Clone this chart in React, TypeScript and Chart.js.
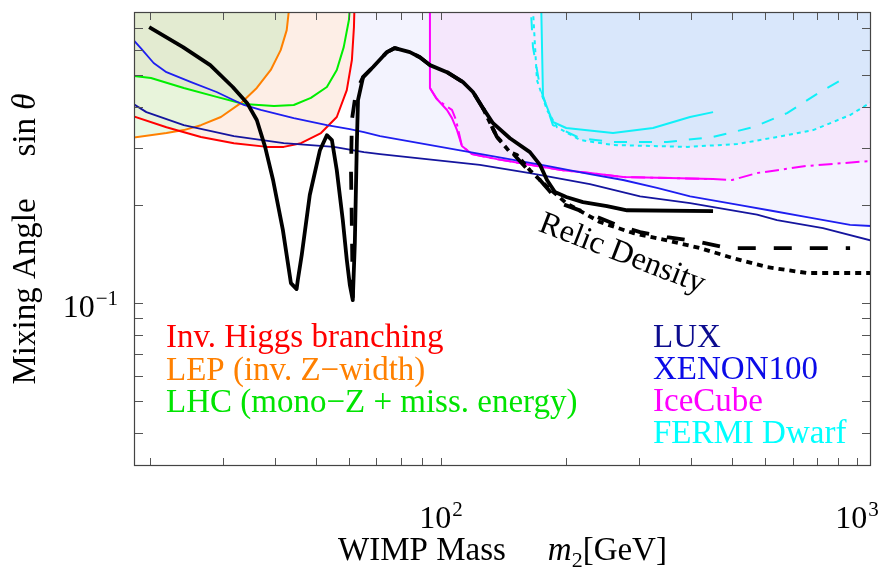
import React, { useEffect, useRef } from "react";
import { Chart, registerables } from "chart.js";

Chart.register(...registerables);

// ---------------- data (mass in GeV, sin theta) ----------------
const higgsMass = [18.0, 21.9, 26.5, 31.8, 38.2, 41.9, 46.1, 51.5, 56.2, 59.4, 61.1, 61.8, 62.1];
const higgsSin = [0.377, 0.347, 0.324, 0.31, 0.302, 0.302, 0.31, 0.333, 0.373, 0.451, 0.558, 0.704, 0.9];

const lepMass = [18.0, 21.9, 24.1, 26.5, 29.6, 33.1, 36.1, 39.0, 41.2, 42.6, 43.6];
const lepSin = [0.322, 0.333, 0.34, 0.352, 0.373, 0.412, 0.458, 0.52, 0.598, 0.689, 0.9];

const lhcMass = [18.0, 20.1, 24.1, 28.9, 33.6, 39.7, 44.3, 48.7, 53.2, 56.2, 58.4, 60.1, 60.8];
const lhcSin = [0.5, 0.491, 0.458, 0.43, 0.409, 0.403, 0.406, 0.427, 0.461, 0.52, 0.611, 0.74, 0.9];

const luxMass = [18.0, 19.6, 24.1, 31.8, 41.9, 55.3, 65.3, 71.4, 124, 163.6, 228, 301, 397, 575, 642, 828, 1100];
const luxSin = [0.413, 0.386, 0.352, 0.326, 0.31, 0.302, 0.291, 0.287, 0.266, 0.251, 0.232, 0.213, 0.203, 0.187, 0.18, 0.17, 0.155];

const xenonMass = [18.0, 19.0, 20.4, 21.9, 25.1, 28.9, 33.6, 36.9, 44.3, 53.2, 60.4, 65.3, 71.4, 117.4, 179.8, 228, 274, 330.5, 397, 523, 628, 758, 962, 1100];
const xenonSin = [0.655, 0.607, 0.546, 0.512, 0.477, 0.445, 0.406, 0.392, 0.37, 0.352, 0.3425, 0.335, 0.326, 0.291, 0.264, 0.249, 0.239, 0.226, 0.213, 0.2, 0.192, 0.184, 0.174, 0.1725];

const iceSolidMass = [94.1, 94.1, 97.3, 103.4, 106.3, 109.3, 112.3, 118.7, 136.3, 163.6, 196.5, 228, 274, 375, 450.7];
const iceSolidSin = [0.9, 0.4575, 0.4265, 0.392, 0.37, 0.34, 0.304, 0.287, 0.277, 0.266, 0.256, 0.251, 0.244, 0.242, 0.2405];

const iceDashMass = [94.1, 97.8, 102.8, 106.3, 108.7, 112.3, 118.7, 136.3, 163.6, 196.5, 228, 274, 375, 450.7, 500.7, 575, 758, 1100];
const iceDashSin = [0.4575, 0.4234, 0.403, 0.392, 0.365, 0.304, 0.287, 0.277, 0.266, 0.256, 0.251, 0.244, 0.242, 0.2405, 0.239, 0.251, 0.264, 0.274];

const fermiSolidMass = [173.9, 175.9, 185.8, 200, 259.1, 323.3, 396.8, 450.7];
const fermiSolidSin = [0.9, 0.4295, 0.36, 0.345, 0.333, 0.345, 0.373, 0.386];

const fermiDashMass = [163.6, 166.4, 173, 185.8, 216, 259.1, 349.4, 450.7, 562.3, 678.8, 814.7, 951.5];
const fermiDashSin = [0.9, 0.611, 0.461, 0.352, 0.321, 0.3125, 0.3125, 0.324, 0.347, 0.3835, 0.445, 0.498];

const fermiDotMass = [165.5, 170.1, 179.8, 190, 216, 259.1, 390.2, 514.7, 618, 783.9, 962, 1100];
const fermiDotSin = [0.9, 0.484, 0.392, 0.347, 0.317, 0.306, 0.302, 0.308, 0.321, 0.34, 0.378, 0.42];

const relicSolidMass = [19.9, 24.0, 27.9, 31.6, 34.2, 36.1, 37.8, 39.5, 41.7, 43.6, 45.0, 45.3, 46.3, 48.4, 51.2, 53.2, 54.7, 56.2, 58.1, 59.4, 60.4, 61.4, 62.1, 62.8, 63.2, 65.0, 68.7, 74.2, 77.5, 84.2, 89.0, 94.1, 103.4, 113.0, 119.4, 126.2, 133.4, 146.5, 163.6, 173, 179.8, 187.9, 200, 219.4, 250.6, 280, 450.7];
const relicSolidSin = [0.704, 0.611, 0.538, 0.461, 0.412, 0.365, 0.302, 0.239, 0.168, 0.1154, 0.1106, 0.118, 0.141, 0.215, 0.295, 0.328, 0.317, 0.256, 0.18, 0.136, 0.114, 0.1023, 0.1531, 0.31, 0.42, 0.4945, 0.531, 0.59, 0.607, 0.59, 0.569, 0.538, 0.512, 0.477, 0.445, 0.397, 0.357, 0.321, 0.291, 0.266, 0.239, 0.2195, 0.212, 0.2045, 0.1988, 0.193, 0.1919];

const relicDashMass = [61.4, 61.1, 60.8, 61.1, 62.5, 65.0, 68.7, 74.2, 77.5, 84.2, 89.0, 94.1, 103.4, 113.0, 119.4, 126.2, 136.3, 146.5, 163.6, 173, 193.2, 224.4, 264.9, 301, 349.4, 419, 487, 962];
const relicDashSin = [0.104, 0.168, 0.256, 0.365, 0.445, 0.4945, 0.531, 0.59, 0.607, 0.59, 0.569, 0.538, 0.512, 0.477, 0.445, 0.397, 0.324, 0.295, 0.2528, 0.239, 0.203, 0.1892, 0.174, 0.1654, 0.1597, 0.1542, 0.1478, 0.1478];

const relicDotMass = [126.2, 136.3, 146.5, 152.3, 163.6, 175.9, 200, 241, 289.4, 349.4, 419, 503, 607.5, 758.4, 1100];
const relicDotSin = [0.397, 0.324, 0.291, 0.285, 0.256, 0.234, 0.203, 0.1776, 0.1643, 0.156, 0.1478, 0.1377, 0.1292, 0.1239, 0.1239];

// axis
const xMin = 18.3;
const xMax = 1080;
const yMin = 0.0317;
const yMax = 0.783;
const xTickValues = [20, 30, 40, 50, 60, 70, 80, 90, 100, 200, 300, 400, 500, 600, 700, 800, 900, 1000];
const yTickValues = [0.04, 0.05, 0.06, 0.07, 0.08, 0.09, 0.1, 0.2, 0.3, 0.4, 0.5, 0.6, 0.7];
const xLabelValues = [100, 1000];
const xLabelExps = ["2", "3"];
const yLabelValues = [0.1];
const yLabelExps = ["\u22121"];

const leftLegend = ["Inv. Higgs branching", "LEP (inv. Z\u2212width)", "LHC (mono\u2212Z + miss. energy)"];
const leftLegendColors = ["#ff0000", "#ff8000", "#00e400"];
const rightLegend = ["LUX", "XENON100", "IceCube", "FERMI Dwarf"];
const rightLegendColors = ["#0c0c8e", "#0b0be8", "#ff00ff", "#00ffff"];

// ---------------- helpers ----------------
type P = { x: number; y: number };
const pts = (xs: number[], ys: number[]): P[] => xs.map((x, i) => ({ x, y: ys[i] }));

const SERIF = '"Liberation Serif", "Times New Roman", serif';
const F = (s: number, italic = false) => `${italic ? "italic " : ""}${s}px ${SERIF}`;
const TXT = 33;

const line = (label: string, data: P[], color: string, width: number, dash: number[], order: number) => ({
  label,
  data,
  borderColor: color,
  backgroundColor: color,
  borderWidth: width,
  borderDash: dash,
  borderJoinStyle: "round" as const,
  borderCapStyle: "butt" as const,
  fill: false,
  pointRadius: 0,
  tension: 0,
  order,
  clip: 0,
});

const area = (label: string, data: P[], color: string, order: number) => ({
  label,
  data,
  borderColor: "rgba(0,0,0,0)",
  backgroundColor: color,
  borderWidth: 0,
  fill: "end",
  pointRadius: 0,
  tension: 0,
  order,
  clip: 0,
});

function drawPow(ctx: CanvasRenderingContext2D, base: string, exp: string, x: number, y: number, align: "center" | "right") {
  ctx.font = F(32);
  const wb = ctx.measureText(base).width;
  ctx.font = F(21);
  const we = ctx.measureText(exp).width;
  const total = wb + 1 + we;
  const start = align === "center" ? x - total / 2 : x - total;
  ctx.textAlign = "left";
  ctx.textBaseline = "alphabetic";
  ctx.font = F(32);
  ctx.fillText(base, start, y);
  ctx.font = F(21);
  ctx.fillText(exp, start + wb + 1, y - 12);
}

const decorPlugin = {
  id: "decor",
  afterDatasetsDraw(chart: any) {
    const { ctx, chartArea: a } = chart;
    const xs = chart.scales.x;
    const ys = chart.scales.y;
    ctx.save();
    // ticks
    ctx.strokeStyle = "#555";
    ctx.lineWidth = 1;
    ctx.beginPath();
    xTickValues.forEach((v) => {
      const p = Math.round(xs.getPixelForValue(v)) + 0.5;
      ctx.moveTo(p, a.bottom);
      ctx.lineTo(p, a.bottom - 8);
      ctx.moveTo(p, a.top);
      ctx.lineTo(p, a.top + 8);
    });
    yTickValues.forEach((v) => {
      const p = Math.round(ys.getPixelForValue(v)) + 0.5;
      ctx.moveTo(a.left, p);
      ctx.lineTo(a.left + 9, p);
      ctx.moveTo(a.right, p);
      ctx.lineTo(a.right - 9, p);
    });
    ctx.stroke();
    ctx.lineWidth = 1.2;
    ctx.strokeStyle = "#444";
    ctx.strokeRect(a.left + 0.5, a.top + 0.5, a.right - a.left - 1, a.bottom - a.top - 1);

    // tick labels
    ctx.fillStyle = "#000";
    xLabelValues.forEach((v, i) => {
      drawPow(ctx, "10", xLabelExps[i], xs.getPixelForValue(v), a.bottom + 62, "center");
    });
    yLabelValues.forEach((v, i) => {
      drawPow(ctx, "10", yLabelExps[i], a.left - 16, ys.getPixelForValue(v) + 14, "right");
    });

    // legends
    ctx.textAlign = "left";
    ctx.textBaseline = "alphabetic";
    ctx.font = F(TXT);
    leftLegend.forEach((t, i) => {
      ctx.fillStyle = leftLegendColors[i];
      ctx.fillText(t, a.left + 32, a.top + 335 + i * 32.5);
    });
    rightLegend.forEach((t, i) => {
      ctx.fillStyle = rightLegendColors[i];
      ctx.fillText(t, a.left + 519, a.top + 335 + i * 32);
    });

    // Relic Density label
    ctx.save();
    ctx.translate(622, 254);
    ctx.rotate((21 * Math.PI) / 180);
    ctx.fillStyle = "#000";
    ctx.textAlign = "center";
    ctx.textBaseline = "middle";
    ctx.font = F(32);
    ctx.fillText("Relic Density", 0, 0);
    ctx.restore();

    // x axis title
    const gap = 42;
    ctx.fillStyle = "#000";
    ctx.textAlign = "left";
    ctx.textBaseline = "alphabetic";
    ctx.font = F(TXT);
    const w1 = ctx.measureText("WIMP Mass").width;
    ctx.font = F(TXT, true);
    const wm = ctx.measureText("m").width;
    ctx.font = F(22);
    const w2 = ctx.measureText("2").width;
    ctx.font = F(TXT);
    const wg = ctx.measureText("[GeV]").width;
    const totalX = w1 + gap + wm + w2 + wg;
    let cx = (a.left + a.right) / 2 - totalX / 2;
    const by = a.bottom + 94;
    ctx.font = F(TXT);
    ctx.fillText("WIMP Mass", cx, by);
    cx += w1 + gap;
    ctx.font = F(TXT, true);
    ctx.fillText("m", cx, by);
    cx += wm;
    ctx.font = F(22);
    ctx.fillText("2", cx, by + 7);
    cx += w2;
    ctx.font = F(TXT);
    ctx.fillText("[GeV]", cx, by);

    // y axis title
    ctx.save();
    ctx.translate(35, (a.top + a.bottom) / 2);
    ctx.rotate(-Math.PI / 2);
    ctx.font = F(TXT);
    const y1 = ctx.measureText("Mixing Angle").width;
    const ys1 = ctx.measureText("sin ").width;
    ctx.font = F(TXT, true);
    const yth = ctx.measureText("\u03b8").width;
    const totalY = y1 + gap + ys1 + yth;
    let cy = -totalY / 2;
    ctx.font = F(TXT);
    ctx.fillText("Mixing Angle", cy, 0);
    cy += y1 + gap;
    ctx.fillText("sin ", cy, 0);
    cy += ys1;
    ctx.font = F(TXT, true);
    ctx.fillText("\u03b8", cy, 0);
    ctx.restore();

    ctx.restore();
  },
};

export default function App() {
  const ref = useRef<HTMLCanvasElement | null>(null);

  useEffect(() => {
    if (!ref.current) return;

    const higgs = pts(higgsMass, higgsSin);
    const lep = pts(lepMass, lepSin);
    const lhc = pts(lhcMass, lhcSin);
    const xenon = pts(xenonMass, xenonSin);
    const iceSolid = pts(iceSolidMass, iceSolidSin);
    const iceDash = pts(iceDashMass, iceDashSin);
    const fermiSolid = pts(fermiSolidMass, fermiSolidSin);
    const fermiDot = pts(fermiDotMass, fermiDotSin);

    const lavenderArea = xenon.filter((p) => p.x >= 60.4);
    const iceArea = iceSolid.concat(iceDash.filter((p) => p.x > 450.7));
    const fermiArea = fermiSolid.slice(0, 3).concat(fermiDot.slice(4));
    const lepHiggsArea = higgs.slice(0, 2).concat(lep.slice(2));
    const lepLhcArea = lhc.slice(0, 4).concat(lep.slice(5));

    const datasets: any[] = [
      // lines (low order = drawn on top)
      line("Relic solid", pts(relicSolidMass, relicSolidSin), "#000", 3.8, [], 0),
      line("Relic dashed", pts(relicDashMass, relicDashSin), "#000", 3.8, [18, 18], 1),
      line("Relic dotted", pts(relicDotMass, relicDotSin), "#000", 3.8, [6, 5], 1),
      line("LUX", pts(luxMass, luxSin), "#15159e", 1.8, [], 3),
      line("XENON100", xenon, "#1e1ef0", 1.8, [], 3),
      line("IceCube", iceSolid, "#ff00ff", 2, [], 4),
      line("IceCube alt", iceDash, "#ff00ff", 2, [14, 5, 3, 5], 4),
      line("FERMI", fermiSolid, "#10f0f8", 2, [], 4),
      line("FERMI dashed", pts(fermiDashMass, fermiDashSin), "#10f0f8", 2, [13, 12], 4),
      line("FERMI dotted", fermiDot, "#10f0f8", 2, [4, 4], 4),
      line("Inv. Higgs", higgs, "#ff0000", 2, [], 5),
      line("LEP", lep, "#ff8000", 2, [], 5),
      line("LHC", lhc, "#00ee00", 2, [], 5),
      // filled regions (high order = drawn first)
      area("LHC region", lepLhcArea, "#e3ebd1", 10),
      area("LEP+Higgs region", lepHiggsArea, "#e8f4db", 11),
      area("LEP region", lep, "#e9f9e4", 12),
      area("Higgs region", higgs, "#fdeee6", 13),
      area("FERMI region", fermiArea, "#d9e7fb", 14),
      area("IceCube region", iceArea, "#f5e7fc", 15),
      area("DD region", lavenderArea, "#f3f3fe", 16),
    ];

    const chart = new Chart(ref.current, {
      type: "line",
      data: { datasets },
      options: {
        animation: false,
        responsive: false,
        maintainAspectRatio: false,
        layout: { padding: { top: 12, right: 7, left: 0, bottom: 0 } },
        plugins: {
          legend: { display: false },
          tooltip: { enabled: false },
          filler: { propagate: false },
        },
        elements: { point: { radius: 0 } },
        scales: {
          x: {
            type: "logarithmic",
            min: xMin,
            max: xMax,
            bounds: "data",
            grid: { display: false },
            border: { display: false },
            ticks: { display: false },
            afterFit: (s: any) => {
              s.height = 108;
            },
          },
          y: {
            type: "logarithmic",
            min: yMin,
            max: yMax,
            bounds: "data",
            grid: { display: false },
            border: { display: false },
            ticks: { display: false },
            afterFit: (s: any) => {
              s.width = 134;
            },
          },
        },
      } as any,
      plugins: [decorPlugin],
    });

    return () => chart.destroy();
  }, []);

  return (
    <div style={{ position: "fixed", left: 0, top: 0, width: 878, height: 574, background: "#fff" }}>
      <canvas ref={ref} width={878} height={574} style={{ display: "block", width: 878, height: 574 }} />
    </div>
  );
}
